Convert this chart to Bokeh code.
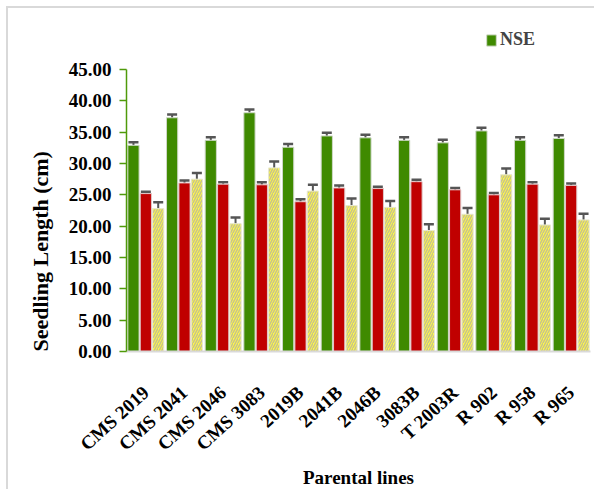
from bokeh.plotting import figure
from bokeh.models import (ColumnDataSource, FactorRange, Whisker, TeeHead, Legend, LegendItem,
                          SingleIntervalTicker, NumeralTickFormatter, Range1d, Title)
from bokeh.transform import dodge
from bokeh.embed import file_html
from bokeh.resources import INLINE

groups = ["CMS 2019", "CMS 2041", "CMS 2046", "CMS 3083", "2019B", "2041B",
          "2046B", "3083B", "T 2003R", "R 902", "R 958", "R 965"]
nse = [32.9, 37.3, 33.7, 38.1, 32.6, 34.4, 34.1, 33.7, 33.3, 35.2, 33.7, 34.0]
nse_err = [0.5, 0.5, 0.5, 0.5, 0.5, 0.5, 0.5, 0.5, 0.5, 0.5, 0.5, 0.5]
series2 = [25.2, 26.9, 26.7, 26.6, 23.9, 26.1, 26.0, 27.1, 25.8, 25.0, 26.7, 26.5]
series2_err = [0.3, 0.4, 0.3, 0.4, 0.4, 0.4, 0.3, 0.3, 0.3, 0.3, 0.3, 0.3]
series3 = [22.8, 27.5, 20.4, 29.3, 25.6, 23.3, 23.0, 19.3, 21.9, 28.2, 20.2, 21.0]
series3_err = [1.0, 1.0, 1.0, 1.0, 1.0, 1.1, 1.0, 1.0, 1.0, 1.0, 1.0, 1.0]

FONT = "Liberation Serif"

src = ColumnDataSource(dict(
    g=groups,
    a=nse, a_lo=[v - e for v, e in zip(nse, nse_err)], a_hi=[v + e for v, e in zip(nse, nse_err)],
    b=series2, b_lo=[v - e for v, e in zip(series2, series2_err)], b_hi=[v + e for v, e in zip(series2, series2_err)],
    c=series3, c_lo=[v - e for v, e in zip(series3, series3_err)], c_hi=[v + e for v, e in zip(series3, series3_err)],
))

p = figure(x_range=FactorRange(factors=groups, range_padding=0), y_range=Range1d(0, 52.5),
           width=588, height=483, output_backend="svg", toolbar_location=None,
           min_border_left=118, min_border_right=6, min_border_top=14, min_border_bottom=139)
p.styles = {"margin-top": "6px", "margin-left": "6px",
            "border-top": "2px solid #d9d9d9", "border-left": "2px solid #d9d9d9"}
p.outline_line_color = None
p.xgrid.grid_line_color = None
p.ygrid.grid_line_color = None

W = 0.29
OFF = 0.32
ga = p.vbar(x=dodge("g", -OFF, range=p.x_range), top="a", width=W, source=src,
            fill_color="#3f8a00", line_color="#cfd8c8", line_width=1)
p.vbar(x=dodge("g", 0, range=p.x_range), top="b", width=W, source=src,
       fill_color="#c00000", line_color="#e0c8c8", line_width=1)
p.vbar(x=dodge("g", OFF, range=p.x_range), top="c", width=W, source=src,
       fill_color="#ffff40", line_color="#e8e8d0", line_width=1,
       hatch_pattern="/", hatch_color="#c8c090", hatch_scale=5, hatch_weight=1.5)

for key, off in (("a", -OFF), ("b", 0), ("c", OFF)):
    w = Whisker(base=dodge("g", off, range=p.x_range), lower=key + "_lo", upper=key + "_hi", source=src,
                line_color="#555555", line_width=2,
                upper_head=TeeHead(size=10, line_color="#555555", line_width=2.5),
                lower_head=TeeHead(size=10, line_color="#555555", line_width=2.5))
    p.add_layout(w)

# y axis
ya = p.yaxis[0]
ya.bounds = (0, 45)
ya.ticker = SingleIntervalTicker(interval=5)
ya.formatter = NumeralTickFormatter(format="0.00")
ya.axis_line_color = "#4f9a0a"
ya.axis_line_width = 1.5
ya.major_tick_line_color = "#4f9a0a"
ya.major_tick_line_width = 1.5
ya.major_tick_out = 7
ya.major_tick_in = 0
ya.minor_tick_line_color = None
ya.major_label_text_font = FONT
ya.major_label_text_font_style = "bold"
ya.major_label_text_font_size = "19px"
ya.major_label_text_color = "black"
ya.major_label_standoff = 8

ytitle = Title(text="Seedling Length (cm)", align="left", standoff=25,
               text_font=FONT, text_font_style="bold", text_font_size="22px", text_color="black")
p.add_layout(ytitle, "left")

# x axis
xa = p.xaxis[0]
xa.axis_line_color = "#d9d9d9"
xa.axis_line_width = 2
xa.major_tick_line_color = None
xa.minor_tick_line_color = None
xa.major_label_orientation = 0.74
xa.major_label_text_font = FONT
xa.major_label_text_font_style = "bold"
xa.major_label_text_font_size = "19px"
xa.major_label_text_color = "black"
xa.major_label_standoff = 32
xa.axis_label = "Parental lines"
xa.axis_label_text_font = FONT
xa.axis_label_text_font_style = "bold"
xa.axis_label_text_font_size = "19px"
xa.axis_label_text_color = "black"
xa.axis_label_standoff = 2

legend = Legend(items=[LegendItem(label="NSE", renderers=[ga])], location=(359, 301),
                label_text_font=FONT, label_text_font_style="bold", label_text_font_size="18px",
                glyph_width=12, glyph_height=14, padding=0, spacing=0, margin=0, label_standoff=3,
                border_line_color=None, background_fill_alpha=0)
p.add_layout(legend)

open("out.html", "w").write(file_html(p, INLINE))
